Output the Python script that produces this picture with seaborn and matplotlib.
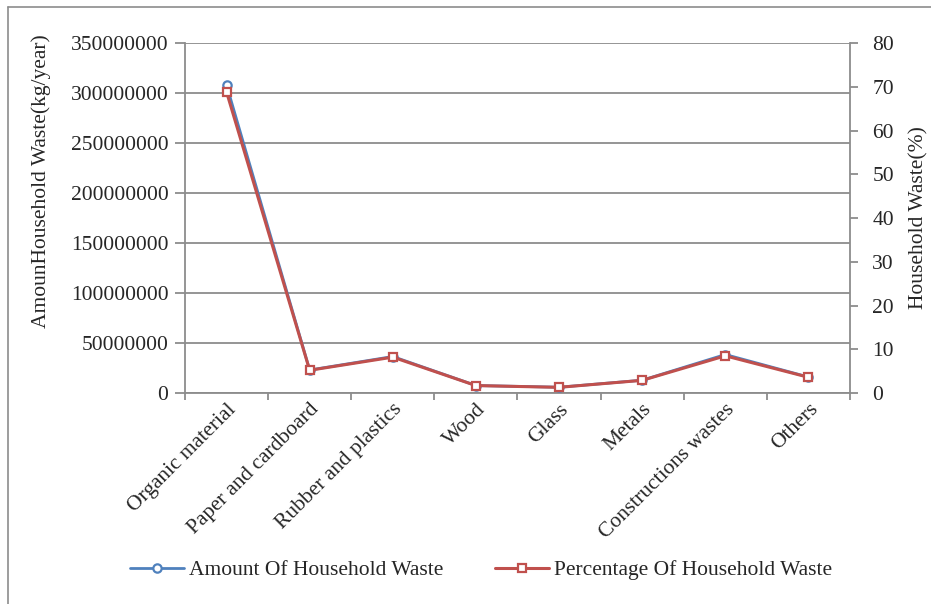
import matplotlib
matplotlib.use("Agg")
import matplotlib.pyplot as plt
from matplotlib.lines import Line2D
import seaborn as sns
import pandas as pd

categories = ["Organic material", "Paper and cardboard", "Rubber and plastics",
              "Wood", "Glass", "Metals", "Constructions wastes", "Others"]
amount_kg_per_year = [308000000, 23000000, 36500000, 7500000,
                      5800000, 12800000, 38500000, 16000000]
percentage = [68.8, 5.2, 8.2, 1.7, 1.3, 2.9, 8.5, 3.6]
left_ticks = [0, 50000000, 100000000, 150000000, 200000000,
              250000000, 300000000, 350000000]
right_ticks = [0, 10, 20, 30, 40, 50, 60, 70, 80]

df = pd.DataFrame({"pos": range(len(categories)), "category": categories,
                   "amount": amount_kg_per_year, "pct": percentage})

sns.set_theme(style="white")
plt.rcParams["font.family"] = ["Liberation Serif", "DejaVu Serif"]
fs = 15.5

blue = "#4F81BD"
red = "#C0504D"
grey = "#8C8C8C"

fig = plt.figure(figsize=(9.31, 6.04), dpi=100)
ax = fig.add_axes([0.1987, 0.3493, 0.7143, 0.5795])
ax2 = ax.twinx()

sns.lineplot(data=df, x="pos", y="amount", ax=ax, color=blue, lw=2,
             marker="o", markersize=6, markerfacecolor="white",
             markeredgecolor=blue, markeredgewidth=1.6, zorder=3)
sns.lineplot(data=df, x="pos", y="pct", ax=ax2, color=red, lw=2.2,
             marker="s", markersize=6, markerfacecolor="white",
             markeredgecolor=red, markeredgewidth=1.6, zorder=4)

n = len(categories)
for a in (ax, ax2):
    a.set_xlim(-0.5, n - 0.5)
    a.set_xlabel("")
    for s in a.spines.values():
        s.set_visible(False)

ax.set_ylim(0, 350000000)
ax.set_yticks(left_ticks)
ax.set_yticklabels([str(v) for v in left_ticks], fontsize=fs)
ax.yaxis.grid(True, color=grey, lw=1.3)
for side in ("left", "bottom"):
    ax.spines[side].set_visible(True)
    ax.spines[side].set_color(grey)
    ax.spines[side].set_linewidth(1.3)
ax.set_ylabel("AmounHousehold Waste(kg/year)", fontsize=fs, labelpad=14,
              y=0.606)

ax.set_xticks(range(n))
ax.set_xticklabels(categories, rotation=45, ha="right",
                   rotation_mode="anchor", fontsize=fs)
ax.tick_params(axis="x", length=0, pad=5)
ax.set_xticks([i - 0.5 for i in range(n + 1)], minor=True)
ax.tick_params(axis="x", which="minor", length=5, width=1.3, color=grey,
               direction="out", bottom=True)
ax.tick_params(axis="y", length=7, width=1.3, color=grey, direction="out",
               left=True, pad=5)

ax2.set_ylim(0, 80)
ax2.set_yticks(right_ticks)
ax2.set_yticklabels([str(v) for v in right_ticks], fontsize=fs)
ax2.spines["right"].set_visible(True)
ax2.spines["right"].set_color(grey)
ax2.spines["right"].set_linewidth(1.3)
ax2.tick_params(axis="y", length=6, width=1.3, color=grey, direction="out",
                right=True, pad=10)
ax2.set_ylabel("Household Waste(%)", fontsize=fs, labelpad=11)
ax2.grid(False)

handles = [
    Line2D([], [], color=blue, lw=2, marker="o", markersize=6,
           markerfacecolor="white", markeredgecolor=blue, markeredgewidth=1.6),
    Line2D([], [], color=red, lw=2.2, marker="s", markersize=6,
           markerfacecolor="white", markeredgecolor=red, markeredgewidth=1.6),
]
fig.legend(handles, ["Amount Of Household Waste", "Percentage Of Household Waste"],
           loc="center", bbox_to_anchor=(0.517, 0.056), ncol=2, frameon=False,
           fontsize=fs, handlelength=2.5, columnspacing=2.4, handletextpad=0.25)

# outer frame edges along the top and left of the figure
fig.add_artist(Line2D([0.009, 1.0], [0.988, 0.988], color=grey, lw=1.2,
                      transform=fig.transFigure))
fig.add_artist(Line2D([0.009, 0.009], [0.0, 0.988], color=grey, lw=1.2,
                      transform=fig.transFigure))

fig.savefig("out.png", dpi=100)
